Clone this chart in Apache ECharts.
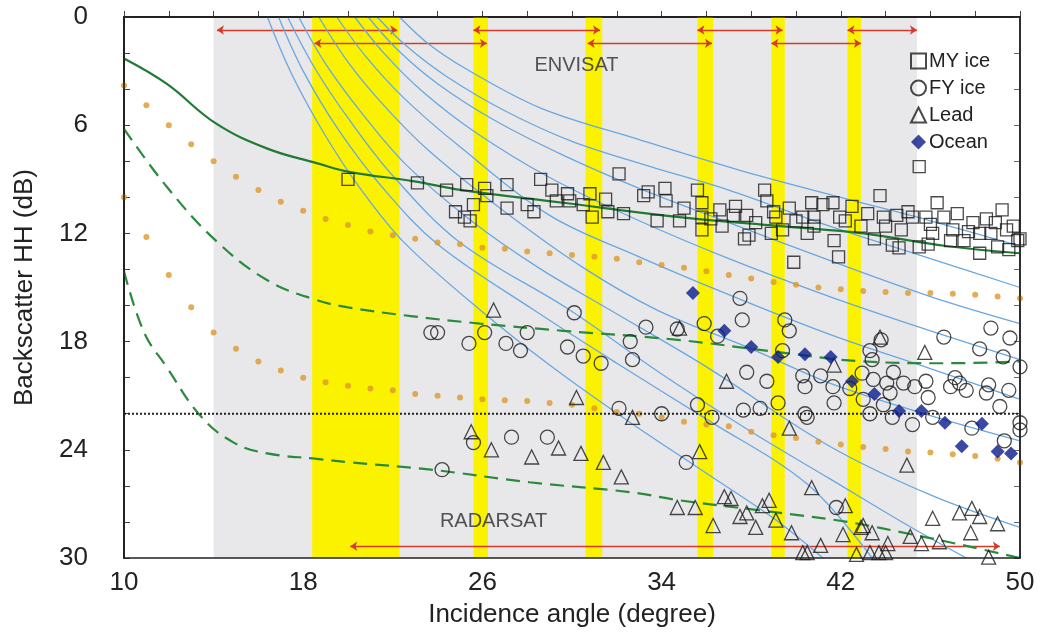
<!DOCTYPE html>
<html><head><meta charset="utf-8">
<script src="https://cdn.jsdelivr.net/npm/echarts@6/dist/echarts.min.js"></script>
<style>html,body{margin:0;padding:0;background:#fff}#c{width:1040px;height:637px}</style>
</head><body><div id="c"></div>
<script>
// ---- data ----
const xTickLabels = [10, 18, 26, 34, 42, 50];
const yTickLabels = [0, 6, 12, 18, 24, 30];
const grayBand = [[14.0, 45.4]];
const yellowBands = [[18.4, 22.3], [25.6, 26.25], [30.6, 31.35], [35.6, 36.3], [38.9, 39.5], [42.3, 42.9]];
const envisatRow1 = [[14.15, 22.2], [25.6, 31.25], [35.6, 39.4], [42.3, 45.4]];
const envisatRow1Level = 0.72;
const envisatRow2 = [[18.5, 26.2], [30.7, 36.25], [38.9, 42.9]];
const envisatRow2Level = 1.46;
const radarsatRange = [20.1, 49.1];
const radarsatLevel = 29.35;
const thresholdLevel = 22;

const myFit = [[10,2.3],[11.9,3.7],[14.1,5.9],[16.4,7.3],[18.6,8.1],[20.1,8.6],[22.9,9.1],[25.1,9.6],[29.6,10.3],[34.8,11.1],[39.3,11.6],[43,12.0],[46.7,12.7],[50,13.1]];
const fyFit = [[10,6.2],[11.9,9.4],[14.1,12.4],[16.4,14.6],[18.6,15.7],[20,16.1],[22.9,16.6],[25.9,17.0],[29.6,17.4],[34.7,17.9],[39.3,18.6],[43,19.1],[46.7,19.2],[50,19.1]];
const leadFit = [[10,14.1],[10.9,17.5],[11.9,19.4],[13.4,22.1],[14.9,23.6],[16.4,24.2],[18.6,24.5],[20.1,24.7],[23.7,25.1],[28.1,25.8],[32.6,26.35],[34.8,26.8],[39.3,27.5],[42.3,28.0],[45.2,28.7],[47.5,29.3],[50,30.0]];

const dotAngles = [10,11,12,13,14,15,16,17,18,19,20,21,22,23,24,25,26,27,28,29,30,31,32,33,34,35,36,37,38,39,40,41,42,43,44,45,46,47,48,49,50];
const dotsUpper = [3.8,4.9,6.0,7.05,8.0,8.86,9.6,10.24,10.74,11.2,11.54,11.9,12.1,12.3,12.5,12.6,12.8,12.85,13.0,13.1,13.2,13.3,13.4,13.6,13.75,13.9,14.1,14.3,14.5,14.7,14.85,15.0,15.1,15.2,15.25,15.3,15.3,15.35,15.4,15.5,15.6];
const dotsLower = [10.0,12.2,14.3,16.1,17.5,18.4,19.1,19.6,20.0,20.25,20.45,20.6,20.7,20.9,21.0,21.1,21.2,21.25,21.3,21.4,21.5,21.7,21.9,22.0,22.2,22.45,22.6,22.7,23.0,23.2,23.35,23.55,23.7,23.85,23.95,24.1,24.15,24.25,24.35,24.5,24.7];

const blueLines = [
 [[22.3,0],[23.6,1.5],[25.3,2.9],[28.6,5.05],[33,6.8],[37.5,8.5],[42,10],[46,11.3],[50,12.7]],
 [[21.3,0],[22.6,1.6],[24.4,3.3],[27,5.2],[30,6.9],[33.5,8.3],[37,9.6],[41.5,11.6],[46,13.4],[50,15.0]],
 [[20.9,0],[22.2,1.8],[24,3.7],[26.5,5.7],[29.5,7.6],[33,9.5],[37,11.4],[41.5,13.5],[46,15.5],[50,17.0]],
 [[20.3,0],[21.6,2.0],[23.3,4.1],[25.7,6.4],[29,8.9],[33,11.3],[37,13.4],[41.5,15.5],[46,17.4],[50,19.0]],
 [[19.5,0],[20.8,2.2],[22.5,4.5],[25,7.2],[29,11.0],[33,13.3],[37,15.4],[41.5,17.6],[46,19.5],[50,21.2]],
 [[18.7,0],[20,2.5],[21.6,4.9],[23.6,7.4],[27,10.8],[30.5,13.9],[33.8,16.25],[38,18.4],[41.5,20.3],[46,22.1],[50,23.5]],
 [[17.8,0],[19,2.6],[20.6,5.3],[22.6,8.2],[25.5,11.3],[28.5,13.9],[31.7,16.25],[36,19.4],[41.5,23.8],[46,26.5],[50,28.3]],
 [[17.3,0],[18.5,2.8],[20,5.6],[22,8.8],[25,12.5],[29.9,16.25],[34,19.8],[38,23.0],[41.5,25.6],[45,28.2],[47.6,30]],
 [[16.9,0],[18,3.0],[19.6,6.3],[21.5,9.4],[24,12.6],[28.3,16.25],[32,19.2],[36,22.3],[40.5,25.9],[43.4,30]],
 [[16.4,0],[17.5,3.2],[19,6.6],[20.6,9.6],[22.5,12.5],[25.9,16.25],[29,19.3],[32.5,22.4],[36,25.3],[39,27.8],[41.2,30]]
];

const myIce = [[20.0,9.0],[23.1,9.2],[24.4,9.6],[25.3,9.3],[26.1,9.5],[26.2,9.9],[27.1,9.3],[24.8,10.8],[25.2,11.1],[25.45,11.3],[25.6,10.4],[27.1,10.6],[28.0,10.4],[28.3,10.8],[28.6,9.0],[29.1,9.6],[29.3,10.2],[29.8,9.8],[29.9,10.2],[30.5,10.4],[30.8,9.8],[30.9,11.1],[31.5,10.1],[31.6,10.8],[32.1,8.7],[32.3,10.9],[33.2,9.9],[33.4,9.7],[34.15,9.5],[34.2,10.2],[33.8,11.3],[34.8,11.3],[35.0,10.6],[35.6,9.6],[35.8,10.3],[35.8,11.1],[35.8,11.8],[36.6,10.7],[36.7,11.6],[37.2,11.0],[37.7,12.3],[37.8,11.0],[37.9,12.1],[38.6,9.6],[38.7,10.2],[39.0,10.8],[39.1,11.1],[39.4,11.8],[39.7,10.6],[39.9,13.6],[40.3,11.1],[40.7,10.3],[40.8,11.1],[40.8,11.6],[41.2,10.4],[41.65,10.3],[41.7,12.4],[41.9,13.3],[41.95,11.1],[42.5,10.5],[42.9,11.6],[43.75,9.9],[43.9,11.1],[44.3,12.65],[44.5,11.0],[44.6,12.8],[44.7,11.8],[45.2,11.1],[45.5,12.75],[45.5,8.3],[45.8,11.1],[46.1,12.0],[46.3,10.3],[46.6,11.1],[47.0,11.8],[47.2,10.9],[47.5,12.4],[47.9,11.4],[48.2,12.0],[48.2,13.1],[48.7,12.0],[49.0,12.75],[49.2,10.7],[49.4,11.8],[49.7,11.6],[49.9,12.4],[50.0,12.3],[36.2,11.2],[38.2,11.4],[40.0,11.3],[42.2,11.3],[43.2,10.9],[44.0,11.6],[45.0,10.8],[46.0,11.5],[46.9,12.4],[47.7,11.9],[48.5,11.2],[49.5,12.9],[43.5,12.3],[45.9,12.6],[48.9,11.4],[40.5,12.0],[38.9,12.0],[37.3,10.5]];

const fyIce = [[23.7,17.5],[24.0,17.5],[25.4,18.1],[26.1,17.5],[27.05,18.1],[27.7,18.5],[28.0,17.5],[30.1,16.4],[29.8,18.3],[30.5,18.8],[31.3,19.2],[32.6,18.0],[32.7,19.0],[33.3,17.2],[34.7,17.3],[32.1,21.7],[34.0,22.0],[25.6,23.6],[27.3,23.3],[28.9,23.3],[24.2,25.1],[35.1,24.7],[35.6,21.5],[35.9,17.0],[36.25,22.2],[36.5,17.7],[37.5,15.6],[37.6,16.8],[37.8,19.7],[37.65,21.8],[38.4,21.7],[38.7,20.2],[39.2,21.4],[39.5,16.8],[39.7,17.4],[39.4,18.5],[40.3,19.9],[40.4,20.5],[40.4,22.0],[40.5,22.2],[41.1,19.9],[41.65,20.5],[41.7,21.4],[41.8,27.2],[42.95,19.75],[43.3,18.5],[43.4,19.0],[43.45,20.1],[43.3,22.0],[43.8,17.9],[44.05,20.3],[44.2,20.85],[44.3,22.2],[44.35,19.7],[44.8,20.3],[45.2,22.6],[45.3,20.5],[45.8,20.2],[45.9,21.1],[46.1,22.2],[46.6,17.75],[46.9,20.5],[47.1,20.0],[47.6,20.7],[47.85,22.8],[48.2,18.4],[48.5,20.85],[48.6,20.4],[48.7,17.25],[49.25,18.85],[49.3,23.5],[49.5,20.7],[49.55,17.8],[50.0,19.4],[50.0,22.5],[50.0,22.9],[47.3,20.3],[49.1,21.6],[42.4,20.6],[43.0,21.2],[43.9,21.5]];

const lead = [[26.5,16.25],[30.2,21.1],[32.7,22.2],[25.5,23.0],[26.4,24.0],[28.2,24.4],[29.4,23.9],[30.4,24.2],[31.4,24.7],[32.2,25.5],[34.7,27.2],[34.8,17.25],[36.9,20.2],[39.7,22.8],[35.7,24.1],[40.7,26.1],[35.5,27.2],[36.8,26.6],[37.1,26.7],[36.3,28.2],[37.5,27.7],[37.8,27.5],[38.2,28.3],[38.5,27.1],[38.8,26.8],[39.1,27.9],[39.8,28.6],[40.3,29.7],[40.5,29.7],[41.1,29.3],[42.1,28.7],[42.2,27.1],[42.9,28.3],[43.0,28.2],[43.4,28.6],[42.7,29.8],[43.3,29.7],[43.7,29.7],[44.0,29.7],[43.75,17.75],[44.1,29.2],[44.95,24.85],[45.1,28.8],[45.6,29.2],[45.75,18.6],[46.1,27.8],[46.4,29.1],[47.3,27.5],[47.85,27.25],[47.8,28.6],[48.2,27.7],[48.6,29.95],[49.0,28.1],[41.7,19.3]];

const ocean = [[35.4,15.3],[36.8,17.4],[38.0,18.3],[39.2,18.85],[40.4,18.7],[41.55,18.85],[42.5,20.2],[43.5,20.9],[44.6,21.85],[45.6,21.85],[46.65,22.5],[48.3,22.55],[47.4,23.8],[49.0,24.1],[49.6,24.2]];

const textLabels = [{name: 'ENVISAT', value: [30.2, 2.67]}, {name: 'RADARSAT', value: [26.5, 28.0]}];

// ---- chart ----
const FONT = "'Liberation Sans', Arial, Helvetica, sans-serif";
const chart = echarts.init(document.getElementById('c'), null, {renderer: 'canvas'});

function bandSeries(name, bands, color, z) {
  return {
    name, type: 'custom', silent: true, z,
    data: bands,
    renderItem: function (params, api) {
      const p1 = api.coord([api.value(0), 0]);
      const p2 = api.coord([api.value(1), 30]);
      return {type: 'rect', shape: {x: p1[0], y: p1[1], width: p2[0] - p1[0], height: p2[1] - p1[1]}, style: {fill: color}};
    },
    encode: {x: [0, 1]}
  };
}

function arrowsData(ranges, level) {
  return ranges.map(r => ({coords: [[r[0], level], [r[1], level]]}));
}

const hollow = c => ({color: 'rgba(255,255,255,0)', borderColor: c, borderWidth: 1.3});

const series = [
  bandSeries('gray', grayBand, '#e8e8eb', 0),
  bandSeries('yellow', yellowBands, '#fbf200', 1),
  {
    type: 'lines', coordinateSystem: 'cartesian2d', silent: true, z: 2,
    symbol: ['arrow', 'arrow'], symbolSize: 7,
    lineStyle: {color: '#d63a2a', width: 1.3, opacity: 1},
    data: arrowsData(envisatRow1, envisatRow1Level).concat(arrowsData(envisatRow2, envisatRow2Level)).concat(arrowsData([radarsatRange], radarsatLevel))
  }
];
blueLines.forEach((ln, i) => series.push({
  name: 'blue' + i, type: 'line', data: ln, smooth: 0.35, showSymbol: false, silent: true, z: 3,
  lineStyle: {color: '#69a7e0', width: 1.3}
}));
series.push(
  {name: 'dotsU', type: 'scatter', data: dotAngles.map((x, i) => [x, dotsUpper[i]]), symbol: 'circle', symbolSize: 6, itemStyle: {color: '#dc982c'}, silent: true, z: 4},
  {name: 'dotsL', type: 'scatter', data: dotAngles.map((x, i) => [x, dotsLower[i]]), symbol: 'circle', symbolSize: 6, itemStyle: {color: '#dc982c'}, silent: true, z: 4},
  {name: 'myFit', type: 'line', data: myFit, smooth: 0.4, showSymbol: false, silent: true, z: 5, lineStyle: {color: '#217a33', width: 2.2}},
  {name: 'fyFit', type: 'line', data: fyFit, smooth: 0.4, showSymbol: false, silent: true, z: 5, lineStyle: {color: '#2c8a3c', width: 2.2, type: [14, 8]}},
  {name: 'leadFit', type: 'line', data: leadFit, smooth: 0.4, showSymbol: false, silent: true, z: 5, lineStyle: {color: '#2c8a3c', width: 2.2, type: [14, 8]}},
  {name: 'thr', type: 'line', data: [[10, thresholdLevel], [50, thresholdLevel]], showSymbol: false, silent: true, z: 5, lineStyle: {color: '#222', width: 2, type: [2, 2]}},
  {name: 'MY ice', type: 'scatter', data: myIce, symbol: 'rect', symbolSize: 12, itemStyle: hollow('#1c1c1c'), z: 6},
  {name: 'FY ice', type: 'scatter', data: fyIce, symbol: 'circle', symbolSize: 14, itemStyle: hollow('#1c1c1c'), z: 6},
  {name: 'Lead', type: 'scatter', data: lead, symbol: 'triangle', symbolSize: 14, itemStyle: hollow('#1c1c1c'), z: 6},
  {name: 'Ocean', type: 'scatter', data: ocean, symbol: 'diamond', symbolSize: 14, itemStyle: {color: '#0b1c8c'}, z: 7},
  {name: 'labels', type: 'scatter', data: textLabels, symbolSize: 0, silent: true, z: 8,
   label: {show: true, position: 'inside', formatter: p => p.name, fontSize: 20, color: '#2a2a2a', fontFamily: FONT}}
);

chart.setOption({
  animation: false,
  backgroundColor: '#fff',
  textStyle: {fontFamily: FONT},
  grid: {left: 124, right: 20, top: 17, bottom: 79, show: true, borderColor: '#222', borderWidth: 1.5, backgroundColor: 'transparent', z: 10},
  legend: {
    data: ['MY ice', 'FY ice', 'Lead', 'Ocean'],
    orient: 'vertical', left: 905, top: 46, itemGap: 7, itemWidth: 15, itemHeight: 15,
    textStyle: {fontSize: 20, color: '#222', fontFamily: FONT, padding: [0, 0, 0, -2]},
    selectedMode: false
  },
  xAxis: {
    type: 'value', min: 10, max: 50, interval: 2,
    name: 'Incidence angle (degree)', nameLocation: 'middle', nameGap: 44,
    nameTextStyle: {fontSize: 26, color: '#222', fontFamily: FONT},
    axisLine: {show: true, lineStyle: {color: '#222', width: 2}},
    axisTick: {show: true, inside: true, length: 6, lineStyle: {color: '#444'}},
    axisLabel: {fontSize: 26, color: '#222', margin: 12, fontFamily: FONT, formatter: v => xTickLabels.includes(v) ? String(v) : ''},
    splitLine: {show: false}
  },
  yAxis: [{
    type: 'value', min: 0, max: 30, interval: 2, inverse: true,
    name: 'Backscatter HH (dB)', nameLocation: 'middle', nameGap: 86, nameRotate: 90,
    nameTextStyle: {fontSize: 26, color: '#222', fontFamily: FONT},
    axisLine: {show: true, lineStyle: {color: '#222', width: 2}},
    axisTick: {show: true, inside: true, length: 6, lineStyle: {color: '#444'}},
    axisLabel: {fontSize: 26, color: '#222', margin: 36, fontFamily: FONT, formatter: v => yTickLabels.includes(v) ? String(v) : ''},
    splitLine: {show: false}
  }, {
    type: 'value', min: 0, max: 30, interval: 2, inverse: true, position: 'right',
    axisLine: {show: true, lineStyle: {color: '#222', width: 1.5}},
    axisTick: {show: true, inside: true, length: 6, lineStyle: {color: '#666'}},
    axisLabel: {show: false}, splitLine: {show: false}
  }],
  series: series
});
</script></body></html>
